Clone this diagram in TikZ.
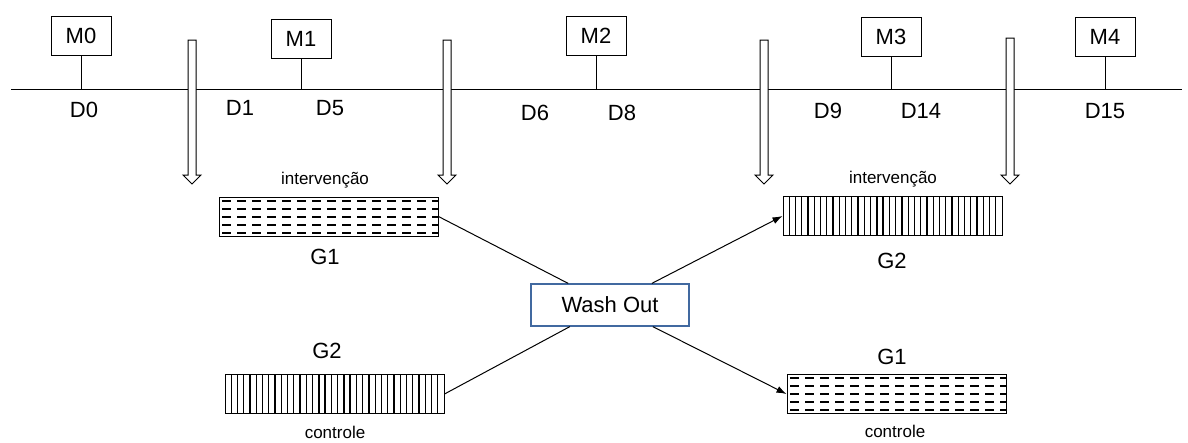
\documentclass[tikz,border=0pt]{standalone}
\usepackage{fontspec}
\setmainfont{Liberation Sans}
\usepackage{xcolor}
\usetikzlibrary{arrows.meta,positioning,calc}
\definecolor{washblue}{RGB}{65,105,160}
\newcommand{\biglab}{\fontsize{22}{26}\selectfont}
\newcommand{\smalllab}{\fontsize{17}{20}\selectfont}

\begin{document}
\begin{tikzpicture}[x=1pt, y=-1pt, line width=1pt, >={Latex[length=10pt,width=7pt]},
    mbox/.style={draw, rectangle, minimum width=60pt, minimum height=39pt, inner sep=0pt, font=\biglab},
    dlab/.style={inner sep=0pt, font=\biglab},
    tag/.style={inner sep=0pt, font=\smalllab},
    gbox/.style={draw, rectangle, minimum width=219pt, minimum height=39pt, inner sep=0pt},
    vbars/.style={gbox, path picture={
        \foreach \i in {1,...,34}
            \draw[line width=1.3pt] ($(path picture bounding box.north west)!\i/35!(path picture bounding box.north east)$)
                -- ($(path picture bounding box.south west)!\i/35!(path picture bounding box.south east)$);}},
    dbars/.style={gbox, path picture={
        \foreach \r in {-16,-8,0,8,16}
            \draw[line width=2pt, dash pattern=on 9pt off 6pt, dash phase=12pt]
                ([yshift=\r pt]path picture bounding box.west) -- ([yshift=\r pt]path picture bounding box.east);}},
    wbox/.style={draw=washblue, line width=1.2pt, rectangle, minimum width=158pt, minimum height=42pt, inner sep=0pt, font=\biglab}]
    \useasboundingbox (0,0) rectangle (1188,442);

    % time line
    \coordinate (tlL) at (11,89);
    \coordinate (tlR) at (1182,89);
    \draw (tlL) -- (tlR);

    \node[mbox] (M0) at (81,36) {M0};
    \node[mbox] (M1) at (301,39) {M1};
    \node[mbox] (M2) at (596,36) {M2};
    \node[mbox] (M3) at (891,37) {M3};
    \node[mbox] (M4) at (1105,37) {M4};
    \foreach \m in {M0,M1,M2,M3,M4}
        \draw (\m.south) -- (\m.south |- tlL);

    \node[dlab] (D0) at (84,110) {D0};
    \node[dlab] (D1) at (240,108) {D1};
    \node[dlab] (D5) at (330,108) {D5};
    \node[dlab] (D6) at (535,113) {D6};
    \node[dlab] (D8) at (622,113) {D8};
    \node[dlab] (D9) at (828,111) {D9};
    \node[dlab] (D14) at (921,111) {D14};
    \node[dlab] (D15) at (1105,111) {D15};

    % hollow arrows
    \foreach \x/\t in {192/40, 447/40, 764/40, 1010/38}
        \draw[fill=white] (\x-4,\t) -- (\x-4,175) -- (\x-9,175) -- (\x,184)
            -- (\x+9,175) -- (\x+4,175) -- (\x+4,\t) -- cycle;

    % groups
    \node[dbars] (G1a) at (328.5,216.5) {};
    \node[vbars] (G2b) at (892.5,216) {};
    \node[vbars] (G2a) at (334.5,394) {};
    \node[dbars] (G1b) at (896.5,394) {};

    \node[tag] (intA) at (325,180) {intervenção};
    \node[tag] (intB) at (893,179) {intervenção};
    \node[tag] (ctlA) at (335,432) {controle};
    \node[tag] (ctlB) at (895,431) {controle};

    \node[dlab] (G1aL) at (325,257) {G1};
    \node[dlab] (G2bL) at (892,261) {G2};
    \node[dlab] (G2aL) at (327,351) {G2};
    \node[dlab] (G1bL) at (892,357) {G1};

    \node[wbox] (wash) at (610,305) {Wash Out};

    \draw (G1a.east) -- (wash);
    \draw[->] (wash) -- (G2b.west);
    \draw (G2a.east) -- (wash);
    \draw[->] (wash) -- (G1b.west);
\end{tikzpicture}
\end{document}
